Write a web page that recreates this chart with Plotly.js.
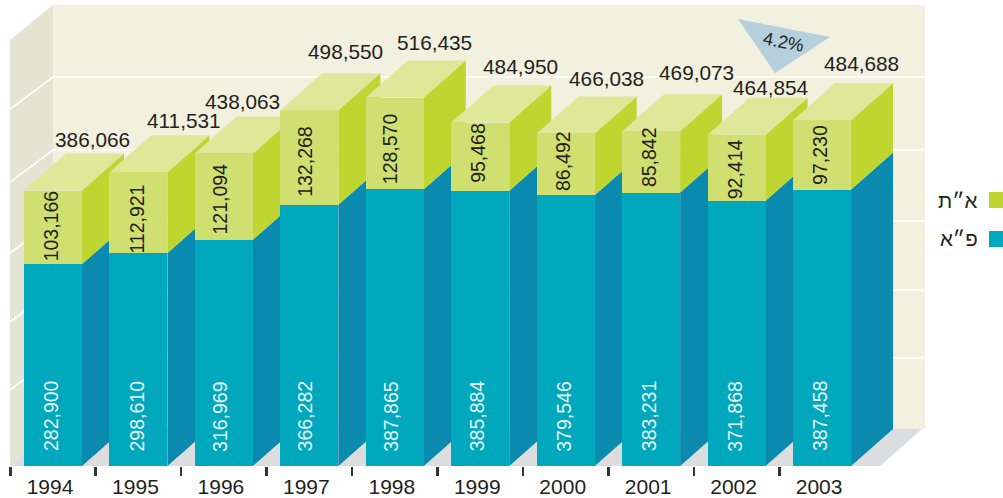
<!DOCTYPE html>
<html>
<head>
<meta charset="utf-8">
<script src="https://cdn.plot.ly/plotly-3.0.1.min.js"></script>
<style>html,body{margin:0;padding:0;background:#fff;overflow:hidden}#c{width:1003px;height:498px}</style>
</head>
<body>
<div id="c"></div>
<script>
// ---- data ----
const years = [1994,1995,1996,1997,1998,1999,2000,2001,2002,2003];
const paValues = [282900,298610,316969,366282,387865,385884,379546,383231,371868,387458];
const atValues = [103166,112921,121094,132268,128570,95468,86492,85842,92414,97230];
const totals = [386066,411531,438063,498550,516435,484950,466038,469073,464854,484688];
const gridValues = [99500,194800,291500,391000,493300];
const seriesNames = ['א״ת','פ״א'];
const growthLabel = '4.2%';

// ---- geometry of the drawing ----
const W = 1003, H = 498, BASE = 466;
const PX_PER_UNIT = 0.0007135;
const X0 = 53, STEP = 85.45, BAR_PX = 58;
const DX_PX = 42, DY_PX = 37;
const C = {wall:'#f2f0df', side:'#e5e4d3', floor:'#dcddde', grid:'#ffffff',
  pa:'#00a8bd', paSide:'#0b8ab0', at:'#d0e070', atSide:'#bed62f', atTop:'#dde899',
  ink:'#231f20', tri:'#b5cfdd'};
const FONT = 'Liberation Sans, Arial, sans-serif';

const ux = px => (px - X0) / STEP;            // px -> x axis units
const uy = py => (BASE - py) / PX_PER_UNIT;   // px -> y axis units
const dx = DX_PX / STEP, dy = DY_PX / PX_PER_UNIT, hw = BAR_PX / 2 / STEP;
const xIdx = years.map((_, i) => i);

const poly = (xs, ys, color) => ({type:'scatter', mode:'lines', x:[...xs, xs[0]], y:[...ys, ys[0]],
  fill:'toself', fillcolor:color, line:{width:0, color:color}, hoverinfo:'skip', showlegend:false,
  xaxis:'x', yaxis:'y'});

// ---- room: walls, floor, gridlines ----
const traces = [];
const wallL = ux(53), wallR = ux(925), outerL = ux(10);
traces.push(poly([wallL, wallR, wallR, wallL], [uy(429), uy(429), uy(5), uy(5)], C.wall));
traces.push(poly([outerL, wallL, wallL, outerL], [0, uy(429), uy(5), uy(40)], C.side));
traces.push(poly([outerL, wallL, ux(922), ux(880)], [0, uy(429), uy(429), 0], C.floor));
gridValues.forEach(v => {
  const back = uy(429) + v;
  const front = back - 32 / PX_PER_UNIT;
  traces.push({type:'scatter', mode:'lines', x:[outerL, wallL, wallR], y:[front, back, back],
    line:{color:C.grid, width:1.6}, hoverinfo:'skip', showlegend:false, xaxis:'x', yaxis:'y'});
});

// ---- side and top faces, painted left to right ----
xIdx.forEach(i => {
  const r = i + hw, l = i - hw, a = paValues[i], b = a + atValues[i];
  traces.push(poly([r, r + dx, r + dx, r], [0, dy, a + dy, a], C.paSide));
  traces.push(poly([r, r + dx, r + dx, r], [a, a + dy, b + dy, b], C.atSide));
  traces.push(poly([l, r, r + dx, l + dx], [b, b, b + dy, b + dy], C.atTop));
});

// ---- front faces, real stacked bars on an overlaying axis pair ----
traces.push({type:'bar', name:seriesNames[1], x:xIdx, y:paValues, width:BAR_PX / STEP,
  marker:{color:C.pa, line:{width:0}}, xaxis:'x2', yaxis:'y2', hoverinfo:'y', showlegend:false});
traces.push({type:'bar', name:seriesNames[0], x:xIdx, y:atValues, width:BAR_PX / STEP,
  marker:{color:C.at, line:{width:0}}, xaxis:'x2', yaxis:'y2', hoverinfo:'y', showlegend:false});

// ---- labels ----
const fmt = v => v.toLocaleString('en-US');
const totalShift = [[39,14],[46,15],[19,15],[36,22],[40,18],[40,19],[41,18],[45,22],[34,10],[39,20]];
const inShiftX = [-2,-1,-4,-4,-4,-3,-2,-2,-2,-2];
const atShiftY = [1,-6.5,-2,-4,-5,4,3,5,-2,0];
const annotations = [];
xIdx.forEach(i => {
  annotations.push({x:i, y:paValues[i] + atValues[i] + dy, xref:'x', yref:'y', text:fmt(totals[i]), showarrow:false,
    xshift:totalShift[i][0], yshift:totalShift[i][1], xanchor:'center', yanchor:'middle',
    font:{family:FONT, size:20.8, color:C.ink}});
  annotations.push({x:i, y:70000, xref:'x', yref:'y', text:fmt(paValues[i]), showarrow:false, textangle:-90,
    xshift:inShiftX[i], xanchor:'center', yanchor:'middle', font:{family:FONT, size:19.5, color:'#e4f4f6'}});
  annotations.push({x:i, y:paValues[i] + atValues[i] / 2, xref:'x', yref:'y', text:fmt(atValues[i]), showarrow:false,
    textangle:-90, xshift:inShiftX[i], yshift:atShiftY[i], xanchor:'center', yanchor:'middle',
    font:{family:FONT, size:19.5, color:C.ink}});
});
annotations.push({xref:'paper', yref:'paper', x:783/W, y:(466-42)/466, text:growthLabel, showarrow:false, textangle:11,
  xanchor:'center', yanchor:'middle', font:{family:FONT, size:18, color:C.ink}});
[200, 238].forEach((py, k) => annotations.push({xref:'paper', yref:'paper', x:980/W, y:(466-py)/466, text:seriesNames[k],
  showarrow:false, xanchor:'right', yanchor:'middle', font:{family:FONT, size:20.5, color:C.ink}}));

const shapes = [
  {type:'path', xref:'paper', yref:'paper', layer:'above', line:{width:0}, fillcolor:C.tri,
   path:`M ${738/W} ${(466-19)/466} L ${830/W} ${(466-37)/466} L ${775/W} ${(466-73)/466} Z`},
  {type:'rect', xref:'paper', yref:'paper', layer:'above', line:{width:0}, fillcolor:C.atSide,
   x0:989/W, x1:1, y0:(466-208)/466, y1:(466-192)/466},
  {type:'rect', xref:'paper', yref:'paper', layer:'above', line:{width:0}, fillcolor:C.pa,
   x0:989/W, x1:1, y0:(466-247)/466, y1:(466-231)/466}
];

const xRange = [ux(0), ux(W)], yRange = [0, uy(0)];
const layout = {
  width:W, height:H, margin:{l:0, r:0, t:0, b:H - BASE, pad:0},
  paper_bgcolor:'#fff', plot_bgcolor:'rgba(0,0,0,0)', barmode:'stack', showlegend:false,
  font:{family:FONT, color:C.ink},
  xaxis:{range:xRange, fixedrange:true, showgrid:false, zeroline:false, showline:false, showticklabels:false,
    tickmode:'array', tickvals:xIdx.map(i => i - 0.5), ticks:'outside', ticklen:9, tickwidth:2.5, tickcolor:'#333'},
  yaxis:{range:yRange, fixedrange:true, showgrid:false, zeroline:false, showline:false, showticklabels:false, ticks:''},
  xaxis2:{range:xRange, overlaying:'x', fixedrange:true, showgrid:false, zeroline:false, showline:false,
    tickmode:'array', tickvals:xIdx.map(i => i - 0.035), ticktext:years.map(String), ticks:'', ticklabelstandoff:6,
    tickfont:{family:FONT, size:21, color:C.ink}},
  yaxis2:{range:yRange, overlaying:'y', fixedrange:true, showgrid:false, zeroline:false, showline:false, showticklabels:false, ticks:''},
  annotations, shapes
};
Plotly.newPlot('c', traces, layout, {displayModeBar:false, staticPlot:true});
</script>
</body>
</html>
